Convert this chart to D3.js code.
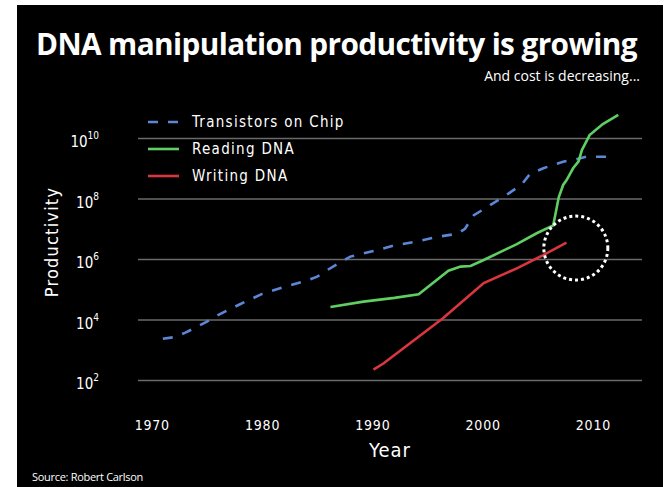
<!DOCTYPE html>
<html>
<head>
<meta charset="utf-8">
<script src="https://cdn.jsdelivr.net/npm/d3@7"></script>
<style>
body { margin: 0; background: #fff; }
text { font-family: "DejaVu Sans Condensed", "DejaVu Sans", sans-serif; fill: #fff; }
</style>
</head>
<body>
<div id="chart"></div>
<script>
// series names + colours
const seriesNames = ["Transistors on Chip", "Reading DNA", "Writing DNA"];
const seriesColors = ["#5b87d6", "#5fcf63", "#d9363e"];

// Transistors on Chip
const transYears = [1971, 1972, 1973, 1974, 1975, 1976, 1978, 1980, 1982, 1984, 1985, 1986, 1988, 1990, 1992, 1994, 1996, 1997.7, 1998.4, 1999.2, 2000, 2002, 2003.5, 2004.3, 2005.5, 2007.3, 2008.5, 2009.4, 2011.8];
const transValues = [2.3e3, 2.6e3, 3.6e3, 5.5e3, 8.5e3, 1.4e4, 3.2e4, 7e4, 1.2e5, 1.9e5, 2.6e5, 4.5e5, 1.2e6, 1.8e6, 2.8e6, 3.8e6, 5.5e6, 6.8e6, 1e7, 2.8e7, 4.2e7, 1.2e8, 2.8e8, 6.5e8, 1e9, 1.65e9, 2e9, 2.4e9, 2.4e9];

// Reading DNA
const readYears = [1986.2, 1989.2, 1992, 1994.2, 1996.9, 1998, 1998.9, 2000.1, 2003.1, 2004.9, 2006.4, 2006.6, 2006.9, 2007.3, 2007.6, 2008.2, 2008.7, 2009.0, 2009.7, 2010.9, 2012.3];
const readValues = [2.6e4, 3.9e4, 5.2e4, 6.8e4, 4.1e5, 5.6e5, 5.9e5, 9.3e5, 3.1e6, 7.1e6, 1.3e7, 3e7, 1.1e8, 2.8e8, 4e8, 1e9, 1.7e9, 4e9, 1.25e10, 2.9e10, 5.8e10];

// Writing DNA
const writeYears = [1990.1, 1991, 1996.4, 2000.1, 2003.1, 2005.5, 2007.6];
const writeValues = [2.2e2, 3.5e2, 1.1e4, 1.6e5, 4.9e5, 1.35e6, 3.5e6];

const xTicks = [1970, 1980, 1990, 2000, 2010];
const yTickExp = [2, 4, 6, 8, 10];

// highlighted spot (dotted ring)
const ringYear = 2008.45, ringValue = 2.3e6;

const width = 670, height = 487;
const plot = { left: 138, right: 642, top: 107.75, bottom: 410.25 };

const svg = d3.select("#chart").append("svg")
  .attr("width", width)
  .attr("height", height);

svg.append("rect")
  .attr("x", 17).attr("y", 5)
  .attr("width", 646).attr("height", 482)
  .attr("fill", "#000");

const x = d3.scaleLinear()
  .domain([1968.75, 2014.45])
  .range([plot.left, plot.right]);

const y = d3.scaleLog()
  .domain([1e1, 1e11])
  .range([plot.bottom, plot.top]);

// gridlines
svg.append("g")
  .attr("class", "grid")
  .attr("transform", `translate(${plot.left},0)`)
  .call(d3.axisLeft(y).tickValues(yTickExp.map(e => Math.pow(10, e)))
    .tickSize(-(plot.right - plot.left)).tickFormat(""))
  .call(g => g.select(".domain").remove())
  .call(g => g.selectAll("line").attr("stroke", "#6a6a6a").attr("stroke-width", 1.5));

// y tick labels with superscripts
const yLab = svg.append("g").selectAll("text")
  .data(yTickExp)
  .join("text")
  .attr("x", 99)
  .attr("y", d => y(Math.pow(10, d)) + 9)
  .attr("text-anchor", "end")
  .style("font-size", "15px");
yLab.append("tspan").text("10");
yLab.append("tspan")
  .attr("dy", -8)
  .style("font-size", "10px")
  .text(d => d);

// x axis
svg.append("g")
  .attr("transform", `translate(0,${plot.bottom})`)
  .call(d3.axisBottom(x).tickValues(xTicks).tickFormat(d3.format("d")).tickSize(0))
  .call(g => g.select(".domain").remove())
  .call(g => g.selectAll("text")
    .attr("dy", 0)
    .attr("y", 20)
    .style("font-family", "'DejaVu Sans Condensed', sans-serif")
    .style("font-size", "14px")
    .style("letter-spacing", "0.8px")
    .attr("fill", "#fff"));

// axis titles
svg.append("text")
  .attr("x", 390).attr("y", 457)
  .attr("text-anchor", "middle")
  .style("font-size", "20px")
  .style("letter-spacing", "1px")
  .text("Year");

svg.append("text")
  .attr("transform", "translate(58,242) rotate(-90)")
  .attr("text-anchor", "middle")
  .style("font-size", "18px")
  .style("letter-spacing", "1.2px")
  .text("Productivity");

// lines
const line = d3.line()
  .x(d => x(d[0]))
  .y(d => y(d[1]));

const seriesData = [
  d3.zip(transYears, transValues),
  d3.zip(readYears, readValues),
  d3.zip(writeYears, writeValues)
];

svg.append("g").selectAll("path")
  .data(seriesData)
  .join("path")
  .attr("d", line)
  .attr("fill", "none")
  .attr("stroke", (d, i) => seriesColors[i])
  .attr("stroke-width", 2.6)
  .attr("stroke-dasharray", (d, i) => i === 0 ? "10,10" : null);

// dotted ring
svg.append("circle")
  .attr("cx", x(ringYear))
  .attr("cy", y(ringValue))
  .attr("r", 32)
  .attr("fill", "none")
  .attr("stroke", "#fff")
  .attr("stroke-width", 3)
  .attr("stroke-dasharray", "3,3");

// legend
const legend = svg.append("g").selectAll("g")
  .data(seriesNames)
  .join("g")
  .attr("transform", (d, i) => `translate(148,${122 + i * 27})`);

legend.append("line")
  .attr("x1", 0).attr("x2", 31)
  .attr("stroke", (d, i) => seriesColors[i])
  .attr("stroke-width", 2.6)
  .attr("stroke-dasharray", (d, i) => i === 0 ? "10,10" : null);

legend.append("text")
  .attr("x", 44)
  .attr("dy", "0.35em")
  .style("font-size", "15px")
  .style("letter-spacing", "1.3px")
  .text(d => d);

// titles
const title = svg.append("text")
  .attr("x", 36).attr("y", 55)
  .style("font-family", "'Open Sans', sans-serif")
  .style("font-weight", 700)
  .style("letter-spacing", "-0.6px")
  .style("font-size", "32px")
  .text("DNA manipulation productivity is growing");
// shrink to fit the width the reference uses
const tw = title.node().getComputedTextLength();
if (tw > 603) title.style("font-size", (32 * 603 / tw).toFixed(2) + "px");

svg.append("text")
  .attr("x", 640).attr("y", 81)
  .attr("text-anchor", "end")
  .style("font-family", "'Open Sans', sans-serif")
  .style("font-size", "14px")
  .text("And cost is decreasing...");

svg.append("text")
  .attr("x", 32).attr("y", 481)
  .style("font-family", "'Open Sans', sans-serif")
  .style("font-size", "11px")
  .style("letter-spacing", "-0.3px")
  .text("Source: Robert Carlson");
</script>
</body>
</html>
